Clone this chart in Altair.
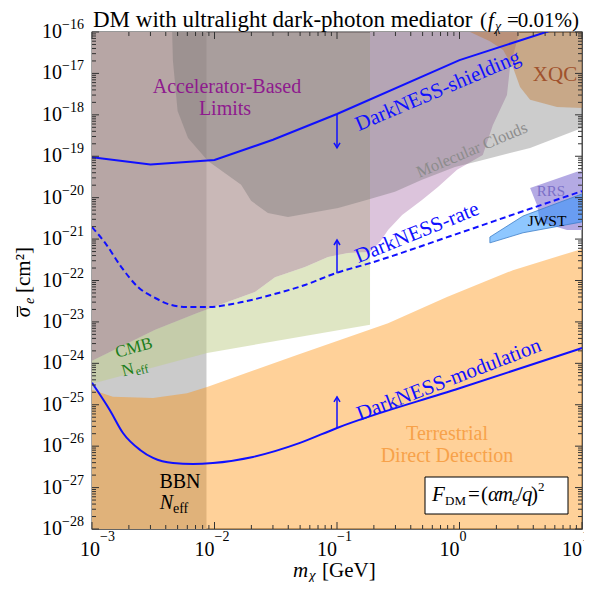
import altair as alt
import pandas as pd

SERIF = "Liberation Serif"
W, H = 490, 497
OX, OY = 92, 32          # page position of plot-area origin

XDOM = [1e-3, 10]
YDOM = [1e-28, 1e-16]

# ---------------- data ----------------
bbn_x = [1e-3, 8.6e-3]
bbn_y = [1e-28, 1e-16]

dd_x = [1e-3, 1.48e-3, 3.15e-3, 5.97e-3, 8.7e-3, 0.0471, 0.261, 0.79, 2.73, 10, 10, 1e-3]
dd_y = [2.3e-25, 1.55e-25, 1.45e-25, 1.9e-25, 2.7e-25, 1.58e-24, 9.3e-24, 4.0e-23, 1.78e-22, 5.8e-22, 1e-29, 1e-29]

cmb_x = [1e-3, 3.27e-3, 7.3e-3, 0.0214, 0.0312, 0.0548, 0.0845, 0.123, 0.186, 0.186, 8.7e-3, 1e-3]
cmb_y = [1.15e-24, 6.5e-24, 1.66e-23, 5.3e-23, 1.2e-22, 2.13e-22, 3.7e-22, 4.6e-22, 4.9e-22, 8.5e-24, 1.78e-24, 3.2e-25]

acc_x = [1e-3, 0.186, 0.186, 0.123, 0.0845, 0.0548, 0.0312, 0.0214, 7.3e-3, 3.27e-3, 1e-3]
acc_y = [1e-15, 1e-15, 4.9e-22, 4.6e-22, 3.7e-22, 2.13e-22, 1.2e-22, 5.3e-23, 1.66e-23, 6.5e-24, 1.15e-24]

lav_x = [0.186, 3.77, 2.58, 2.44, 1.87, 1.55, 0.955, 0.667, 0.494, 0.34, 0.261, 0.224, 0.186]
lav_y = [1e-15, 1e-15, 1.35e-17, 3.0e-18, 5.6e-19, 1.07e-19, 4.7e-20, 1.82e-20, 8.8e-21, 3.8e-21, 1.65e-21, 8.5e-22, 4.9e-22]

cloud_x = [4.42e-3, 4.58e-3, 5.0e-3, 6.08e-3, 8.85e-3, 0.0165, 0.0199, 0.0273, 0.0398, 0.102,
           0.186, 0.297, 0.494, 0.918, 1.47, 3.77, 10, 10]
cloud_y = [1e-15, 2.0e-17, 1.24e-18, 2.75e-19, 7.7e-20, 2.04e-20, 8.4e-21, 4.27e-21, 3.4e-21, 5.6e-21,
           9.3e-21, 1.38e-20, 2.7e-20, 5.5e-20, 7.8e-20, 1.59e-19, 4.8e-19, 1e-15]

xqc_x = [1.22, 1.77, 2.27, 2.73, 3.12, 3.77, 6.25, 10, 10]
xqc_y = [1e-16, 6.0e-17, 3.7e-17, 1.4e-17, 4.7e-18, 2.3e-18, 1.55e-18, 1.47e-18, 1e-16]

rrs_x = [3.77, 9.1, 10, 10, 7.55, 4.54, 4.3]
rrs_y = [1.7e-20, 4.2e-20, 4.4e-20, 1.66e-21, 1.66e-21, 2.6e-21, 6.6e-21]

jwst_x = [1.77, 3.3, 10, 10, 3.3, 1.77]
jwst_y = [1.12e-21, 3.6e-21, 1.23e-20, 2.6e-21, 1.42e-21, 8.1e-22]

shield_x = [1e-3, 3e-3, 1e-2, 3e-2, 0.1, 1, 10]
shield_y = [9.5e-20, 6.3e-20, 8.1e-20, 2.5e-19, 1.05e-18, 2.1e-17, 1.9e-16]

rate_x = [1e-3, 1.28e-3, 1.73e-3, 2.38e-3, 3.27e-3, 4.42e-3, 6.08e-3, 8.85e-3, 0.01556, 0.0289,
          0.0548, 0.098, 0.186, 0.836, 3.77, 10]
rate_y = [1.95e-21, 8.1e-22, 2.14e-22, 6.9e-23, 3.8e-23, 2.57e-23, 2.29e-23, 2.29e-23, 2.88e-23, 4.47e-23,
          7.8e-23, 1.51e-22, 2.63e-22, 1.17e-21, 5.4e-21, 1.44e-20]

mod_x = [1e-3, 1.40e-3, 1.79e-3, 2.47e-3, 3.15e-3, 4.58e-3, 6.67e-3, 9.7e-3, 0.0206, 0.0499, 0.1, 1.0, 10]
mod_y = [3.4e-25, 7.4e-26, 2.08e-26, 8.1e-27, 5.2e-27, 3.9e-27, 3.7e-27, 3.9e-27, 5.5e-27, 1.2e-26,
         2.75e-26, 2.5e-25, 2.34e-24]

arrow_x = [0.1, 0.1, 0.1]
arrow_from = [1.05e-18, 1.5e-22, 2.75e-26]
arrow_to = [1.6e-19, 9.5e-22, 1.55e-25]
arrow_angle = [180, 0, 0]

x_major = [1e-3, 1e-2, 1e-1, 1, 10]
x_exp = ["\u22123", "\u22122", "\u22121", "0", "1"]
y_major = [10.0 ** e for e in range(-28, -15)]
y_exp = ["\u2212%d" % (-e) for e in range(-28, -15)]
x_minor = [m * 10.0 ** d for d in range(-3, 1) for m in range(2, 10)]
y_minor = [m * 10.0 ** d for d in range(-28, -16) for m in range(2, 10)]

# ---------------- helpers ----------------
xs = alt.Scale(type="log", domain=XDOM)
ys = alt.Scale(type="log", domain=YDOM)


def X(f):
    return alt.X(f, type="quantitative", scale=xs, axis=None)


def Y(f):
    return alt.Y(f, type="quantitative", scale=ys, axis=None)


def poly(xv, yv, color, opacity, stroke=None, sw=0.0):
    df = pd.DataFrame({"x": xv, "y": yv, "o": list(range(len(xv)))})
    props = dict(interpolate="linear-closed", fill=color, fillOpacity=opacity, clip=True)
    if stroke:
        props.update(stroke=stroke, strokeWidth=sw)
    else:
        props.update(stroke=color, strokeOpacity=0, strokeWidth=0)
    return alt.Chart(df).mark_line(**props).encode(x=X("x"), y=Y("y"), order="o:Q")


def curve(xv, yv, dash=None, interp="linear"):
    df = pd.DataFrame({"x": xv, "y": yv, "o": list(range(len(xv)))})
    props = dict(color="#1010ff", strokeWidth=2, clip=True, interpolate=interp)
    if dash:
        props["strokeDash"] = dash
    return alt.Chart(df).mark_line(**props).encode(x=X("x"), y=Y("y"), order="o:Q")


ONE = alt.Data(values=[{"a": 1}])


def txt(s, px, py, size=20, color="black", italic=False, angle=0, align="center",
        baseline="alphabetic"):
    props = dict(text=s, font=SERIF, fontSize=size, color=color, align=align, baseline=baseline)
    if italic:
        props["fontStyle"] = "italic"
    if angle:
        props["angle"] = angle
    return alt.Chart(ONE).mark_text(**props).encode(x=alt.value(px - OX), y=alt.value(py - OY))


def seg(x1, y1, x2, y2, color="black", sw=1.2):
    return alt.Chart(ONE).mark_rule(color=color, strokeWidth=sw).encode(
        x=alt.value(x1 - OX), y=alt.value(y1 - OY), x2=alt.value(x2 - OX), y2=alt.value(y2 - OY))


layers = []

# BBN band (neutral grey, drawn under the translucent regions)
bbn = pd.DataFrame({"x0": [bbn_x[0]], "x1": [bbn_x[1]], "y0": [bbn_y[0]], "y1": [bbn_y[1]]})
layers.append(alt.Chart(bbn).mark_rect(color="#cbcbcb", clip=True).encode(
    x=X("x0"), x2="x1", y=Y("y0"), y2="y1"))

layers.append(poly(dd_x, dd_y, "#ff8c00", 0.40))
layers.append(poly(cmb_x, cmb_y, "#bfcd89", 0.50))
layers.append(poly(acc_x, acc_y, "#ac9291", 0.65))
layers.append(poly(lav_x, lav_y, "#dcc4dc", 1.0))
layers.append(poly(cloud_x, cloud_y, "#6d6d6d", 0.35))
layers.append(poly(xqc_x, xqc_y, "#c27222", 0.40))
layers.append(poly(rrs_x, rrs_y, "#b4aae4", 1.0))
layers.append(poly(jwst_x, jwst_y, "#1e90ff", 0.50, stroke="#3f7fc8", sw=0.8))

# DarkNESS projections
layers.append(curve(shield_x, shield_y))
layers.append(curve(rate_x, rate_y, dash=[6, 3.5], interp="monotone"))
layers.append(curve(mod_x, mod_y, interp="monotone"))

arr = pd.DataFrame({"x": arrow_x, "y0": arrow_from, "y1": arrow_to, "a": arrow_angle})
layers.append(alt.Chart(arr).mark_rule(color="#1010ff", strokeWidth=1.5).encode(
    x=X("x"), y=Y("y0"), y2="y1"))
layers.append(alt.Chart(arr).mark_point(shape="M -0.6 1 L 0 0 L 0.6 1", size=100, filled=False,
                                        color="#1010ff", strokeWidth=1.5, opacity=1).encode(
    x=X("x"), y=Y("y1"), angle=alt.Angle("a:Q", scale=None)))

# region labels
PURPLE = "#8e1a8e"
BLUE = "#1010ff"
layers += [
    txt("Accelerator-Based", 227, 93, 20, PURPLE),
    txt("Limits", 225, 115, 20, PURPLE),
    txt("DarkNESS-shielding", 438, 91, 21, BLUE, angle=337, baseline="middle"),
    txt("DarkNESS-rate", 417, 233, 21, BLUE, angle=338, baseline="middle"),
    txt("DarkNESS-modulation", 449, 380, 21, BLUE, angle=339, baseline="middle"),
    txt("Molecular Clouds", 472, 150, 16.5, "#8c8c8c", angle=337, baseline="middle"),
    txt("XQC", 555, 75, 21, "#a0522d", baseline="middle"),
    txt("RRS", 551, 191, 15, "#7a6fc8", baseline="middle"),
    txt("JWST", 547, 221, 15.5, "black", baseline="middle"),
    txt("CMB", 134, 348, 17, "#1b7d1b", angle=345, baseline="middle"),
    txt("N", 128, 370, 17, "#1b7d1b", angle=345, baseline="middle"),
    txt("eff", 142, 370, 12, "#1b7d1b", angle=345, baseline="middle"),
    txt("BBN", 180, 488, 20),
    txt("N", 173, 509, 20, italic=True, align="right"),
    txt("eff", 173, 513, 14, align="left"),
    txt("Terrestrial", 447, 440, 20, "#f7a24a"),
    txt("Direct Detection", 447, 462, 20, "#f7a24a"),
]

# form-factor box
layers.append(alt.Chart(ONE).mark_rect(fill="white", stroke="black", strokeWidth=1).encode(
    x=alt.value(425 - OX), x2=alt.value(568 - OX), y=alt.value(477 - OY), y2=alt.value(514 - OY)))
layers += [
    txt("F", 432, 501, 21, italic=True, align="left"),
    txt("DM", 445, 505, 13, align="left"),
    txt("=", 468, 501, 21, align="left"),
    txt("(", 481, 501, 21, align="left"),
    txt("\u03b1", 488, 501, 21, italic=True, align="left"),
    txt("m", 498, 501, 21, italic=True, align="left"),
    txt("e", 512, 505, 13, italic=True, align="left"),
    txt("/", 517, 501, 21, align="left"),
    txt("q", 522, 501, 21, italic=True, align="left"),
    txt(")", 531, 501, 21, align="left"),
    txt("2", 538, 491, 13, align="left"),
]

# title
layers += [
    txt("DM with ultralight dark-photon mediator", 93, 27, 23, align="left"),
    txt("(", 480, 27, 21, align="left"),
    txt("f", 488, 27, 21, italic=True, align="left"),
    txt("\u03c7", 495, 31, 14, italic=True, align="left"),
    txt("=", 507, 27, 21, align="left"),
    txt("0.01%)", 579, 27, 21, align="right"),
]

# axis titles
layers += [
    txt("m", 293, 577, 21, italic=True, align="left"),
    txt("\u03c7", 309, 580, 15, italic=True, align="left"),
    txt("[GeV]", 322, 577, 21, align="left"),
    txt("[cm\u00b2]", 30, 270, 21, angle=270),
    txt("\u03c3", 30, 312, 21, italic=True, angle=270),
    txt("e", 34, 301, 14, italic=True, angle=270),
    seg(17.5, 306, 17.5, 317, sw=1.3),
]

# tick labels
xt0 = pd.DataFrame({"v": x_major[:1], "e": x_exp[:1]})
xt = pd.DataFrame({"v": x_major[1:], "e": x_exp[1:]})
yt = pd.DataFrame({"v": y_major, "e": y_exp})
for df, shift in ((xt0, 8), (xt, 0)):
    layers.append(alt.Chart(df).mark_text(text="10", font=SERIF, fontSize=20, align="right",
                                          baseline="middle", color="black", dx=shift).encode(
        x=X("v"), y=alt.value(550 - OY)))
    layers.append(alt.Chart(df).mark_text(font=SERIF, fontSize=14, align="left", baseline="middle",
                                          color="black", dx=shift).encode(
        x=X("v"), y=alt.value(537 - OY), text="e:N"))
layers.append(alt.Chart(yt).mark_text(text="10", font=SERIF, fontSize=20, align="right",
                                      baseline="middle", color="black").encode(
    x=alt.value(62 - OX), y=Y("v")))
layers.append(alt.Chart(yt).mark_text(font=SERIF, fontSize=14, align="left", baseline="middle",
                                      color="black", dy=-7).encode(
    x=alt.value(62 - OX), y=Y("v"), text="e:N"))

# ticks (inward, all four sides)
TC = "#333333"
xM = pd.DataFrame({"v": x_major})
xm = pd.DataFrame({"v": x_minor})
yM = pd.DataFrame({"v": y_major})
ym = pd.DataFrame({"v": y_minor})
for df, L in ((xM, 7), (xm, 4)):
    layers.append(alt.Chart(df).mark_rule(color=TC, strokeWidth=1).encode(
        x=X("v"), y=alt.value(H), y2=alt.value(H - L)))
    layers.append(alt.Chart(df).mark_rule(color=TC, strokeWidth=1).encode(
        x=X("v"), y=alt.value(0), y2=alt.value(L)))
for df, L in ((yM, 7), (ym, 4)):
    layers.append(alt.Chart(df).mark_rule(color=TC, strokeWidth=1).encode(
        y=Y("v"), x=alt.value(0), x2=alt.value(L)))
    layers.append(alt.Chart(df).mark_rule(color=TC, strokeWidth=1).encode(
        y=Y("v"), x=alt.value(W), x2=alt.value(W - L)))

chart = alt.layer(*layers).properties(
    width=W, height=H,
    padding={"left": OX - 8, "top": OY - 8, "right": 592 - 8 - OX - W, "bottom": 590 - 8 - OY - H},
    autosize=alt.AutoSizeParams(type="none"),
    background="white",
).configure_view(stroke="#333333", strokeWidth=1.3)

chart.save("out.html", embed_options={"renderer": "svg", "actions": False})
